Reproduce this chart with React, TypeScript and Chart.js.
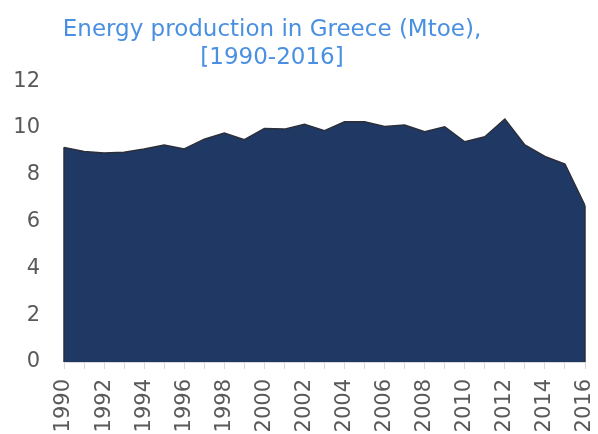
import React, { useEffect, useRef } from "react";
import { Chart, registerables } from "chart.js";

Chart.register(...registerables);

const years: string[] = [
  "1990","1991","1992","1993","1994","1995","1996","1997","1998","1999",
  "2000","2001","2002","2003","2004","2005","2006","2007","2008","2009",
  "2010","2011","2012","2013","2014","2015","2016",
];
const production: number[] = [
  9.17, 8.99, 8.93, 8.96, 9.1, 9.27, 9.1, 9.52, 9.78, 9.5,
  9.98, 9.95, 10.16, 9.88, 10.26, 10.26, 10.06, 10.12, 9.84, 10.05,
  9.41, 9.62, 10.38, 9.27, 8.78, 8.46, 6.68,
];
const titleLines: string[] = ["Energy production in Greece (Mtoe),", "[1990-2016]"];
const yTicks: number[] = [0, 2, 4, 6, 8, 10, 12];

const edgePlugin = {
  id: "edges",
  afterLayout(chart: any) {
    const t = chart.titleBlock;
    if (t) {
      t.right = t.right - 41;
      t.width = t.right - t.left;
    }
  },
  afterDatasetsDraw(chart: any) {
    const meta = chart.getDatasetMeta(0);
    const pts = meta.data;
    if (!pts || !pts.length) return;
    const y0 = chart.scales.y.getPixelForValue(0);
    const ctx = chart.ctx;
    ctx.save();
    ctx.strokeStyle = "#2b2f3a";
    ctx.lineWidth = 1.5;
    [pts[0], pts[pts.length - 1]].forEach((p: any) => {
      ctx.beginPath();
      ctx.moveTo(p.x, p.y);
      ctx.lineTo(p.x, y0);
      ctx.stroke();
    });
    ctx.restore();
  },
};

export default function App() {
  const ref = useRef<HTMLCanvasElement | null>(null);
  useEffect(() => {
    if (!ref.current) return;
    const font = "'DejaVu Sans', Verdana, sans-serif";
    const chart = new Chart(ref.current, {
      type: "line",
      data: {
        labels: years,
        datasets: [
          {
            data: production,
            fill: "origin",
            backgroundColor: "#203864",
            borderColor: "#2b2f3a",
            borderWidth: 1.5,
            pointRadius: 0,
            tension: 0,
          },
        ],
      },
      options: {
        animation: false,
        responsive: true,
        maintainAspectRatio: false,
        layout: { padding: { left: 0, right: 13, top: 16, bottom: 0 } },
        plugins: {
          legend: { display: false },
          tooltip: { enabled: false },
          title: {
            display: true,
            text: titleLines,
            color: "#4a90e2",
            font: { family: font, size: 23, weight: "normal", lineHeight: 1.22 },
            padding: { top: 0, bottom: 9 },
          },
        },
        scales: {
          x: {
            afterFit: (scale: any) => {
              scale.height = 72;
              scale.paddingLeft = 0;
              scale.paddingRight = 0;
            },
            grid: {
              display: true,
              drawOnChartArea: false,
              drawTicks: true,
              tickLength: 7,
              color: "#d9d9d9",
            },
            border: { display: true, color: "#d9d9d9", width: 1 },
            ticks: {
              autoSkip: false,
              maxRotation: 90,
              minRotation: 90,
              color: "#595959",
              padding: 10,
              font: { family: font, size: 21 },
              callback: (_v: any, i: number) => (i % 2 === 0 ? years[i] : ""),
            },
          },
          y: {
            min: 0,
            max: 12,
            afterBuildTicks: (axis: any) => {
              axis.ticks = yTicks.map((v) => ({ value: v }));
            },
            afterFit: (scale: any) => {
              scale.width = 64;
            },
            grid: { display: false, drawTicks: false },
            border: { display: false },
            ticks: {
              color: "#595959",
              padding: 24,
              font: { family: font, size: 21 },
            },
          },
        },
      },
      plugins: [edgePlugin],
    });
    return () => chart.destroy();
  }, []);
  return (
    <div style={{ position: "fixed", left: 0, top: 0, width: 598, height: 434, background: "#fff" }}>
      <canvas ref={ref} />
    </div>
  );
}
